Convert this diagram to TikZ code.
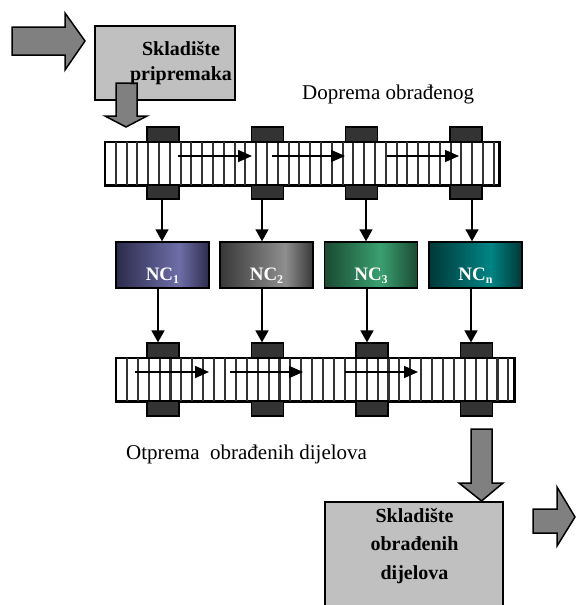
\documentclass[tikz,border=0pt]{standalone}
\usepackage{fontspec}
\setmainfont{Liberation Serif}
\usetikzlibrary{arrows.meta}
\definecolor{boxgray}{HTML}{C0C0C0}
\definecolor{arrgray}{HTML}{808080}
\definecolor{blkgray}{HTML}{333333}
\definecolor{ncAd}{HTML}{2C2C4C}
\definecolor{ncAl}{HTML}{6E6EA8}
\definecolor{ncBd}{HTML}{383838}
\definecolor{ncBl}{HTML}{8E8E8E}
\definecolor{ncCd}{HTML}{1A4A32}
\definecolor{ncCl}{HTML}{3AA070}
\definecolor{ncDd}{HTML}{003838}
\definecolor{ncDl}{HTML}{008484}
\pgfdeclarehorizontalshading{ncA}{100bp}{color(0bp)=(ncAd); color(25bp)=(ncAd); color(59bp)=(ncAl); color(75bp)=(ncAd); color(100bp)=(ncAd)}
\pgfdeclarehorizontalshading{ncB}{100bp}{color(0bp)=(ncBd); color(25bp)=(ncBd); color(60bp)=(ncBl); color(75bp)=(ncBd); color(100bp)=(ncBd)}
\pgfdeclarehorizontalshading{ncC}{100bp}{color(0bp)=(ncCd); color(25bp)=(ncCd); color(55bp)=(ncCl); color(75bp)=(ncCd); color(100bp)=(ncCd)}
\pgfdeclarehorizontalshading{ncD}{100bp}{color(0bp)=(ncDd); color(25bp)=(ncDd); color(58bp)=(ncDl); color(75bp)=(ncDd); color(100bp)=(ncDd)}
\tikzset{
  storebox/.style={draw=black, line width=1.5pt, fill=boxgray, inner sep=0pt},
  storetext/.style={font=\bfseries\fontsize{20}{25}\selectfont, align=center, inner sep=0pt},
  bigarrow/.style={draw=black, line width=1.5pt, fill=arrgray, line join=miter},
  belt/.style={draw=black, line width=1.5pt, fill=white, inner sep=0pt, minimum height=43pt},
  stripe/.style={draw=black!80, line width=2.1pt},
  blk/.style={draw=black, line width=1.2pt, fill=blkgray, inner sep=0pt, minimum width=32pt},
  flow/.style={draw=black, line width=1.6pt, -{Triangle[length=14pt,width=12pt]}},
  conn/.style={draw=black, line width=1.6pt, -{Triangle[length=12pt,width=13pt]}},
  ncbox/.style={draw=black, line width=1.5pt, inner sep=0pt, minimum width=93pt, minimum height=46pt},
  nclabel/.style={text=white, font=\bfseries\fontsize{19}{19}\selectfont, inner sep=0pt, anchor=base},
  caption/.style={font=\fontsize{21}{25}\selectfont, inner sep=0pt, anchor=base west}
}
\newcommand{\ncsub}[1]{\raisebox{-3pt}{\fontsize{12}{12}\selectfont #1}}
\begin{document}
\begin{tikzpicture}[x=1pt,y=-1pt]
\useasboundingbox (0,0) rectangle (576,605);
\clip (0,0) rectangle (576,605);

% input arrow and store of blanks
\draw[bigarrow] (12,27) -- (65,27) -- (65,13) -- (85,41) -- (65,70) -- (65,55) -- (12,55) -- cycle;
\node[storebox, minimum width=140pt, minimum height=74pt] (sp) at (165,63) {};
\draw[bigarrow] (116,83) -- (137,83) -- (137,116) -- (147,116) -- (126,127) -- (105,116) -- (116,116) -- cycle;
\node[storetext] (sptext) at (181,63) {Skladište\\pripremaka};

% captions
\node[caption] (cap1) at (302,99) {Doprema obrađenog};
\node[caption] (cap2) at (126,459) {Otprema\ \ obrađenih dijelova};

% upper belt
\node[belt, minimum width=394pt] (b1) at (302,163.5) {};
\foreach \k in {1,...,36} \draw[stripe] ({105+10.8*\k},142) -- ({105+10.8*\k},185);
\draw[line width=1.5pt] (b1.north west) rectangle (b1.south east);
\foreach \i/\x in {1/163,2/267.5,3/361.5,4/466} {
  \node[blk, minimum height=15pt] (ta\i) at (\x,134.5) {};
  \node[blk, minimum height=14pt] (tb\i) at (\x,192) {};
}
\coordinate (fa1) at (178,156); \coordinate (fa2) at (252,156);
\coordinate (fb1) at (272,156); \coordinate (fb2) at (345,156);
\coordinate (fc1) at (387,156); \coordinate (fc2) at (459,156);
\draw[flow] (fa1) -- (fa2);
\draw[flow] (fb1) -- (fb2);
\draw[flow] (fc1) -- (fc2);

% NC machines
\node[ncbox, shading=ncA] (nc1) at (162.5,265) {};
\node[ncbox, shading=ncB] (nc2) at (266.5,265) {};
\node[ncbox, shading=ncC] (nc3) at (371,265) {};
\node[ncbox, shading=ncD] (nc4) at (475.5,265) {};
\node[nclabel] (l1) at ([yshift=-15pt]nc1.center) {NC\ncsub{1}};
\node[nclabel] (l2) at ([yshift=-15pt]nc2.center) {NC\ncsub{2}};
\node[nclabel] (l3) at ([yshift=-15pt]nc3.center) {NC\ncsub{3}};
\node[nclabel] (l4) at ([yshift=-15pt]nc4.center) {NC\ncsub{n}};

% lower belt
\node[belt, minimum width=398pt] (b2) at (315,379.5) {};
\foreach \k in {1,...,36} \draw[stripe] ({116+10.9*\k},358) -- ({116+10.9*\k},401);
\draw[line width=1.5pt] (b2.north west) rectangle (b2.south east);
\foreach \i/\x in {1/163,2/267.5,3/372,4/476.5} {
  \node[blk, minimum height=15pt] (la\i) at (\x,350.5) {};
  \node[blk, minimum height=15pt] (lb\i) at (\x,408.5) {};
}
\coordinate (ga1) at (135,372); \coordinate (ga2) at (209,372);
\coordinate (gb1) at (230,372); \coordinate (gb2) at (303,372);
\coordinate (gc1) at (345,372); \coordinate (gc2) at (418,372);
\draw[flow] (ga1) -- (ga2);
\draw[flow] (gb1) -- (gb2);
\draw[flow] (gc1) -- (gc2);

% connectors belt -> NC -> belt
\foreach \i/\x in {1/162,2/262,3/366,4/472} {
  \coordinate (s\i) at (\x,199);
  \draw[conn] (s\i) -- (s\i |- nc\i.north);
}
\foreach \i/\x in {1/158,2/262,3/367,4/471} {
  \coordinate (u\i) at (\x,288);
  \draw[conn] (u\i) -- (u\i |- la\i.north);
}

% output store
\draw[bigarrow] (471,429) -- (492,429) -- (492,483) -- (503,483) -- (481.5,501) -- (459,483) -- (471,483) -- cycle;
\node[storebox, minimum width=178pt, minimum height=110pt] (so) at (414,557) {};
\node[storetext, font=\bfseries\fontsize{20}{28.5}\selectfont] (sotext) at (414.5,546) {Skladište\\obrađenih\\dijelova};
\draw[bigarrow] (533,509) -- (557,509) -- (557,487) -- (575,517) -- (557,546) -- (557,533) -- (533,533) -- cycle;
\end{tikzpicture}
\end{document}
